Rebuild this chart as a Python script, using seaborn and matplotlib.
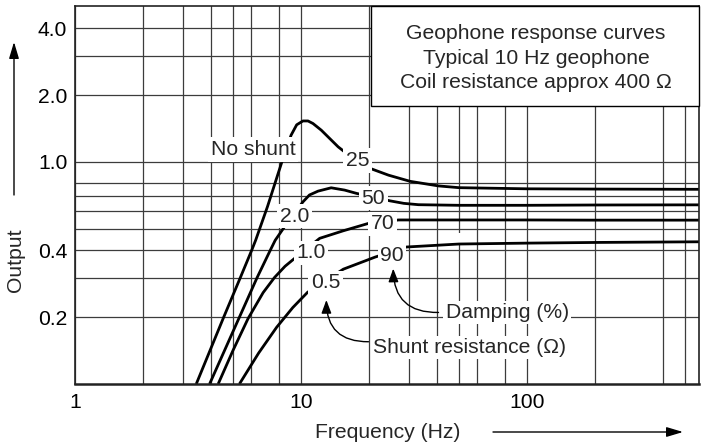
import matplotlib
matplotlib.use("Agg")
import matplotlib.pyplot as plt
import pandas as pd
import seaborn as sns
from matplotlib.patches import Rectangle, FancyArrowPatch
from matplotlib.ticker import FixedLocator, FixedFormatter, NullFormatter

# Geophone response curves: frequency (Hz) against relative output
freq_25 = [3.44, 4.55, 5.38, 6.05, 6.30, 7.11, 8.28, 9.04, 9.57, 10.2, 10.74, 11.3,
           12.3, 14.6, 15.6, 20.2, 24.4, 30.4, 40.6, 50, 100, 200, 577]
out_25 = [0.100, 0.200, 0.300, 0.400, 0.444, 0.630, 1.02, 1.32, 1.47, 1.53, 1.53, 1.49,
          1.39, 1.17, 1.11, 0.936, 0.872, 0.818, 0.780, 0.766, 0.757, 0.755, 0.753]

freq_50 = [3.94, 5.34, 6.38, 7.31, 7.69, 8.65, 10.2, 10.9, 11.9, 13.6, 15.6, 17.6,
           24.8, 28.5, 33.1, 50, 100, 200, 577]
out_50 = [0.100, 0.200, 0.300, 0.400, 0.444, 0.528, 0.661, 0.710, 0.739, 0.765, 0.747, 0.722,
          0.668, 0.651, 0.642, 0.638, 0.638, 0.640, 0.641]

freq_70 = [4.30, 5.0, 5.83, 6.8, 7.64, 8.5, 9.34, 12.1, 15.4, 19.9, 27.0, 50, 100, 200, 577]
out_70 = [0.100, 0.1415, 0.197, 0.258, 0.302, 0.339, 0.367, 0.453, 0.490, 0.529, 0.548,
          0.548, 0.548, 0.547, 0.547]

freq_90 = [5.34, 6.5, 7.8, 9.2, 10.7, 15.4, 21.3, 29.3, 50, 100, 200, 577]
out_90 = [0.100, 0.138, 0.180, 0.221, 0.259, 0.329, 0.373, 0.414, 0.427, 0.431, 0.434, 0.437]

damping_labels = ["25", "50", "70", "90"]
shunt_labels = ["No shunt", "2.0", "1.0", "0.5"]

x_major = [1, 10, 100]
x_major_labels = ["1", "10", "100"]
x_minor = [2, 3, 4, 5, 6, 8, 20, 30, 40, 50, 60, 80, 200, 400, 500]
y_major = [0.2, 0.4, 1.0, 2.0, 4.0]
y_major_labels = ["0.2", "0.4", "1.0", "2.0", "4.0"]
y_minor = [0.3, 0.5, 0.6, 0.7, 0.8, 3.0]

# label anchor points (text baselines) in data coordinates
damping_pos = [(17.8, 0.959), (20.9, 0.647), (22.9, 0.498), (25.3, 0.359)]
shunt_pos = [(6.15, 1.075), (9.35, 0.539), (11.1, 0.368), (12.85, 0.270)]

sns.set_theme(style="white")
plt.rcParams["font.family"] = ["Liberation Sans", "DejaVu Sans"]
FS = 15.2

frames = []
for f, o, d in zip([freq_25, freq_50, freq_70, freq_90],
                   [out_25, out_50, out_70, out_90], damping_labels):
    frames.append(pd.DataFrame({"Frequency": f, "Output": o, "Damping": d}))
df = pd.concat(frames, ignore_index=True)

fig = plt.figure(figsize=(7.01, 4.46), dpi=100)
ax = fig.add_axes([75 / 701, (446 - 384) / 446, 624 / 701, 378 / 446])

sns.lineplot(data=df, x="Frequency", y="Output", hue="Damping", estimator=None,
             sort=False, palette=["black"] * 4, legend=False, linewidth=2.0,
             ax=ax, zorder=2)
for ln in ax.lines:
    ln.set_solid_joinstyle("round")
    ln.set_solid_capstyle("butt")

ax.set_xscale("log")
ax.set_yscale("log")
ax.set_xlim(1, 577)
ax.set_ylim(0.1, 5.04)

ax.xaxis.set_major_locator(FixedLocator(x_major))
ax.xaxis.set_major_formatter(FixedFormatter(x_major_labels))
ax.xaxis.set_minor_locator(FixedLocator(x_minor))
ax.xaxis.set_minor_formatter(NullFormatter())
ax.yaxis.set_major_locator(FixedLocator(y_major))
ax.yaxis.set_major_formatter(FixedFormatter(y_major_labels))
ax.yaxis.set_minor_locator(FixedLocator(y_minor))
ax.yaxis.set_minor_formatter(NullFormatter())

ax.set_axisbelow(True)
ax.grid(which="both", color="#3c3c3c", linewidth=0.9)
ax.tick_params(axis="both", which="both", length=0, labelsize=FS, colors="black")
ax.tick_params(axis="x", pad=6.5)
ax.tick_params(axis="y", pad=5.5)
ax.set_xlabel("")
ax.set_ylabel("")

for side, sp in ax.spines.items():
    sp.set_visible(True)
    sp.set_color("#222222")
    sp.set_linewidth(1.2)
ax.spines["bottom"].set_linewidth(1.8)

# small blank patch across the 90 % curve's gridline
ax.add_patch(Rectangle((48.9, 0.429), 8.0, 0.048, facecolor="white",
                       edgecolor="none", zorder=1))

label_box = dict(boxstyle="square,pad=0.12", facecolor="white", edgecolor="none")
for txt, (x, y) in zip(damping_labels, damping_pos):
    ax.text(x, y, txt, ha="center", va="baseline", fontsize=FS, zorder=5, bbox=label_box)
for txt, (x, y) in zip(shunt_labels, shunt_pos):
    ax.text(x, y, txt, ha="center", va="baseline", fontsize=FS, zorder=5, bbox=label_box)

# title box
ax.add_patch(Rectangle((0.474, 0.735), 0.526, 0.265, transform=ax.transAxes,
                       facecolor="white", edgecolor="black", linewidth=1.0, zorder=6,
                       clip_on=False))
for txt, yb in zip(["Geophone response curves", "Typical 10 Hz geophone",
                    "Coil resistance approx 400 \u03a9"], [0.912, 0.847, 0.782]):
    ax.text(0.739, yb, txt, transform=ax.transAxes, ha="center", va="baseline",
            fontsize=FS, zorder=7)

# key annotations with curved arrows
ax.text(81.7, 0.198, "Damping (%)", ha="center", va="baseline", fontsize=FS, zorder=5,
        bbox=dict(boxstyle="square,pad=0.1", facecolor="white", edgecolor="none"))
ax.text(55.7, 0.1375, "Shunt resistance (\u03a9)", ha="center", va="baseline",
        fontsize=FS, zorder=5,
        bbox=dict(boxstyle="square,pad=0.1", facecolor="white", edgecolor="none"))
arrow_kw = dict(arrowstyle="-|>,head_length=0.8,head_width=0.3",
                connectionstyle="arc3,rad=-0.5", color="black", lw=1.0,
                shrinkA=0, shrinkB=0, mutation_scale=10)
ax.annotate("", xy=(25.6, 0.331), xytext=(40.6, 0.210), arrowprops=arrow_kw, zorder=6)
ax.annotate("", xy=(12.95, 0.239), xytext=(19.9, 0.155), arrowprops=arrow_kw, zorder=6)

# axis titles with direction arrows
fig.text(15 / 701, 1 - 260 / 446, "Output", rotation=90, ha="center", va="center",
         fontsize=FS)
fig.text(388 / 701, 1 - 433 / 446, "Frequency (Hz)", ha="center", va="center",
         fontsize=FS)
dir_kw = dict(arrowstyle="-|>,head_length=1.0,head_width=0.3", mutation_scale=10,
              lw=1.0, color="black", transform=fig.transFigure, shrinkA=0, shrinkB=0)
fig.add_artist(FancyArrowPatch((14 / 701, 1 - 195 / 446), (14 / 701, 1 - 42 / 446), **dir_kw))
fig.add_artist(FancyArrowPatch((493 / 701, 1 - 432 / 446), (683 / 701, 1 - 432 / 446), **dir_kw))

fig.savefig("out.png", dpi=100, facecolor="white")
